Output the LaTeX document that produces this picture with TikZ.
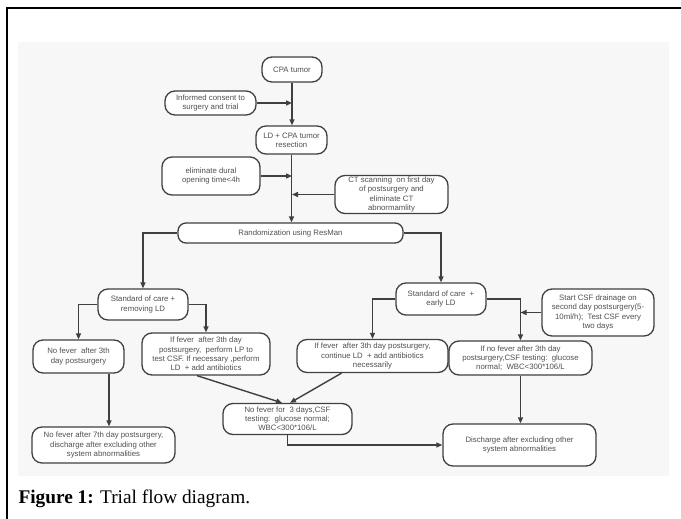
\documentclass[tikz,border=0pt]{standalone}
\usepackage{fontspec}
\setmainfont{Liberation Serif}
\newfontfamily\boxfont{Liberation Sans}
\usetikzlibrary{arrows.meta}
\definecolor{linec}{HTML}{404040}
\definecolor{textc}{HTML}{505050}
\definecolor{bgc}{HTML}{F7F7F7}
\tikzset{
  box/.style={draw=linec, line width=1.3pt, rounded corners=10pt, fill=white,
    align=center, inner sep=0pt, text=textc,
    font=\boxfont\fontsize{7.8}{9.2}\selectfont},
  arr/.style={draw=linec, line width=1.4pt, -{Triangle[length=6pt,width=5pt]}},
}
\begin{document}
\begin{tikzpicture}[x=1pt,y=-1pt]
\useasboundingbox (0,0) rectangle (681,519);
\fill[bgc] (18,42) rectangle (669,476);
\draw[line width=2pt] (7,519) -- (7,8) -- (681,8);
\node[anchor=base west, font=\fontsize{19.3}{22}\selectfont] (cap) at (15,503) {\textbf{Figure 1:} Trial flow diagram.};

% top column
\node[box, minimum width=60, minimum height=25] (cpa) at (292,69.5) {CPA tumor};
\node[box, minimum width=91, minimum height=24] (cons) at (210.5,103) {Informed consent to\\surgery and trial};
\node[box, minimum width=71, minimum height=28] (ld) at (291.5,140) {LD + CPA tumor\\resection};
\node[box, minimum width=98, minimum height=38] (dural) at (211,176) {eliminate dural\\opening time<4h};
\node[box, minimum width=113, minimum height=38] (ct) at (391.5,194.5) {CT scanning\ \ on first day\\of postsurgery and\\eliminate CT\\abnormamlity};
\node[box, minimum width=225, minimum height=20, rounded corners=8pt] (rand) at (290.5,233) {Randomization using ResMan};

\coordinate (t1) at (cons.east -| cpa.south);
\coordinate (t2) at (dural.east -| cpa.south);
\coordinate (t3) at (ct.west -| cpa.south);
\draw[arr] (cpa.south) -- (cpa.south |- ld.north);
\draw[arr] (cons.east) -- (t1);
\draw[arr] (ld.south) -- (ld.south |- rand.north);
\draw[arr] (dural.east) -- (t2);
\draw[arr] (ct.west) -- (t3);

% second level
\node[box, minimum width=90, minimum height=31] (soc1) at (143,304.5) {Standard of care +\\removing LD};
\node[box, minimum width=90, minimum height=32] (soc2) at (441,299) {Standard of care\ \ +\\early LD};
\node[box, minimum width=112, minimum height=47] (csf) at (598,312.5) {Start CSF drainage on\\second day postsurgery(5-\\10ml/h);\ \ Test CSF every\\two days};
\draw[arr] (rand.west) -| (soc1.north);
\draw[arr] (rand.east) -| (soc2.north);

% third level
\node[box, minimum width=91, minimum height=33] (nf3) at (78.5,356.5) {No fever\ \ after 3th\\day postsurgery};
\node[box, minimum width=128, minimum height=42] (iflp) at (206,354) {If fever\ \ after 3th day\\postsurgery,\ \ perform LP to\\test CSF. If necessary ,perform\\LD\ \ + add antibiotics};
\node[box, minimum width=151, minimum height=33] (ifc) at (372.5,356) {If fever\ \ after 3th day postsurgery,\\continue LD\ \ + add antibiotics\\necessarily};
\node[box, minimum width=143, minimum height=34] (ifno) at (520.5,358) {If no fever after 3th day\\postsurgery,CSF testing:\ \ glucose\\normal;\ \ WBC<300*106/L};
\draw[arr] (soc1.west) -| (nf3.north);
\draw[arr] (soc1.east) -| (iflp.north);
\draw[arr] (soc2.west) -| (ifc.north);
\draw[arr] (soc2.east) -| (ifno.north);
\coordinate (c1) at (csf.west -| ifno.north);
\draw[arr] (csf.west) -- (c1);

% bottom level
\node[box, minimum width=129, minimum height=31] (nf3d) at (287.5,419) {No fever for\ \ 3 days,CSF\\testing:\ \ glucose normal;\\WBC<300*106/L};
\node[box, minimum width=143, minimum height=36] (nf7) at (103.5,445) {No fever after 7th day postsurgery,\\discharge after excluding other\\system abnormalities};
\node[box, minimum width=153, minimum height=42] (dis) at (519.5,445) {Discharge after excluding other\\system abnormalities};

\draw[arr] ([xshift=30.5pt]nf3.south) -- ([xshift=5.5pt]nf7.north);
\draw[arr] ([xshift=-9pt]iflp.south) -- ([xshift=-5.5pt]nf3d.north);
\draw[arr] ([xshift=-31pt]ifc.south) -- ([xshift=2.5pt]nf3d.north);
\draw[arr] (ifno.south) -- (ifno.south |- dis.north);
\draw[arr] (nf3d.south) |- (dis.west);
\end{tikzpicture}
\end{document}
